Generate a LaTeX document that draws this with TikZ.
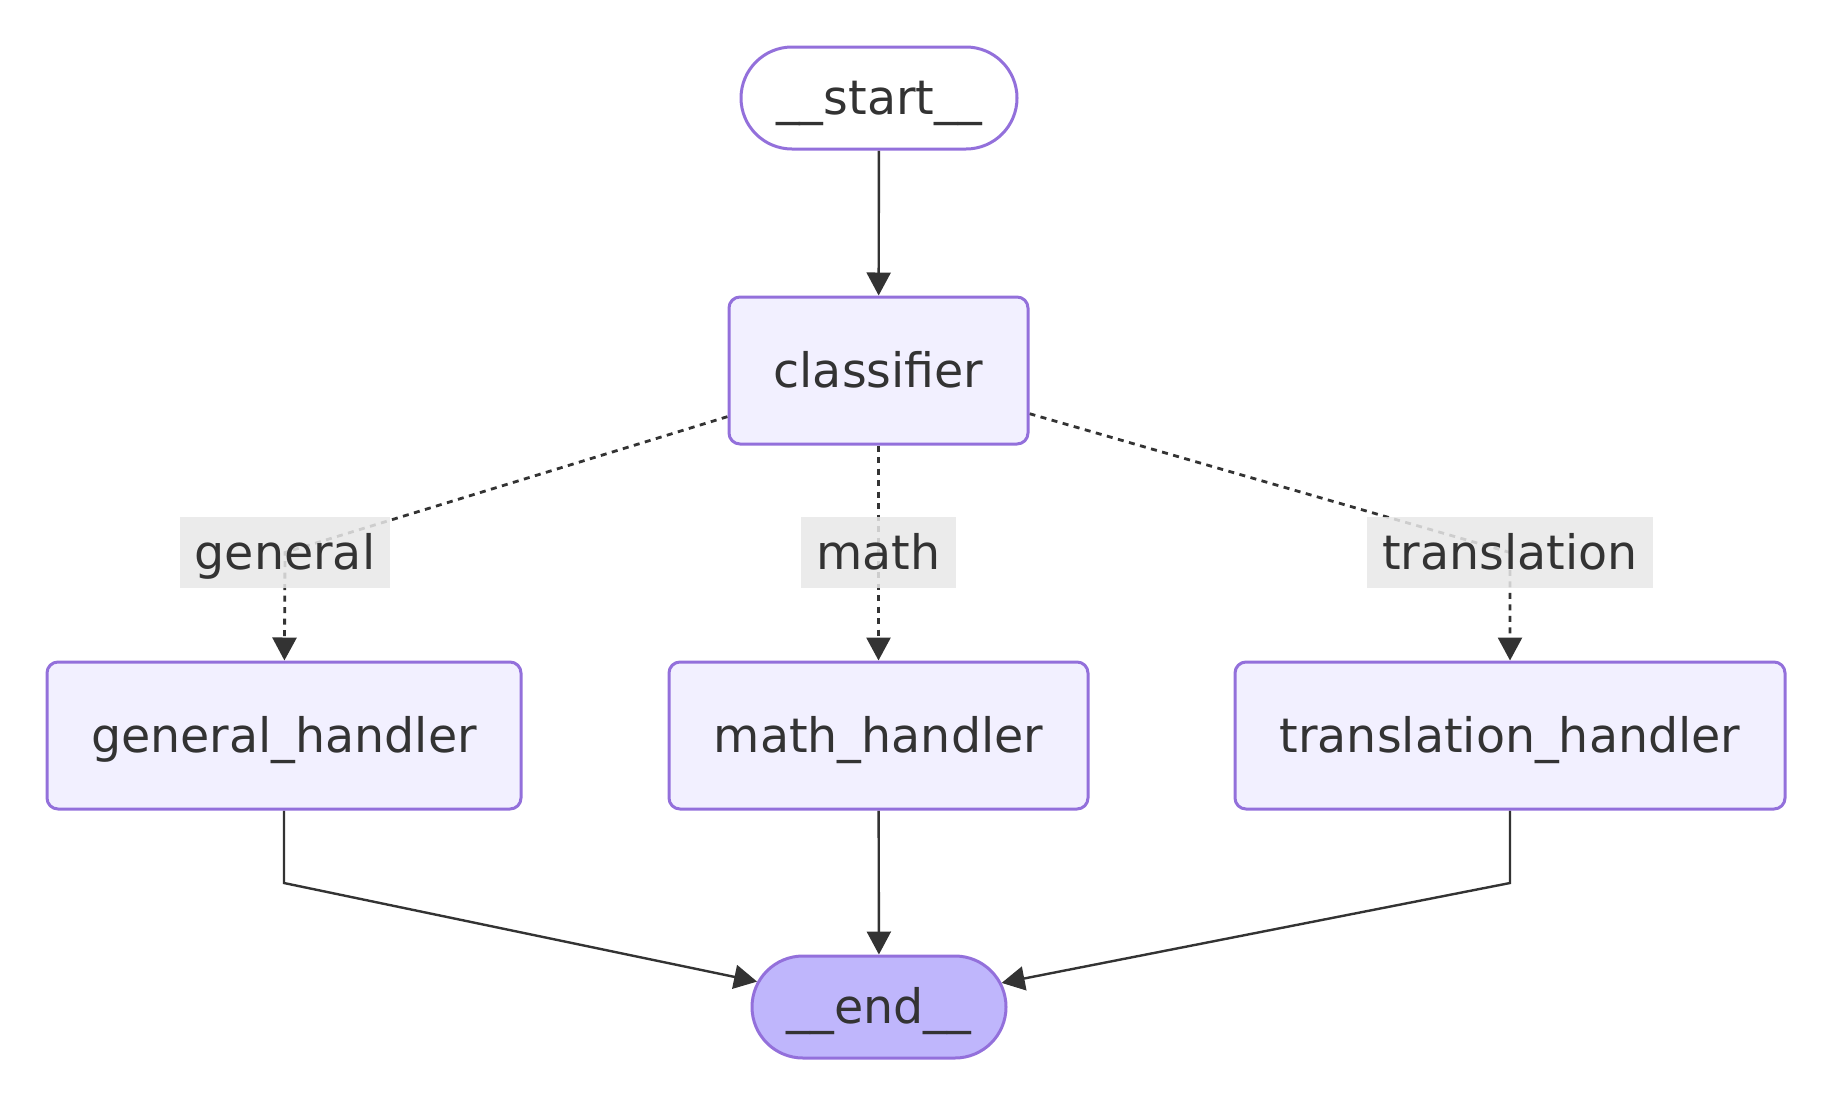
\documentclass[tikz,border=0pt]{standalone}
\usepackage{fontspec}
\setmainfont{DejaVu Sans}
\usetikzlibrary{arrows.meta,shapes.misc,backgrounds}
\definecolor{nodeborder}{HTML}{9370DB}
\definecolor{nodefill}{HTML}{F2F0FF}
\definecolor{endfill}{HTML}{BFB6FC}
\definecolor{ink}{HTML}{333333}
\definecolor{labelfill}{HTML}{E8E8E8}
\begin{document}
\begin{tikzpicture}[x=1pt,y=-1pt,
  font=\fontsize{47.5}{57}\selectfont,
  every node/.style={text=ink, inner sep=0pt, text height=35pt, text depth=2pt},
  box/.style={draw=nodeborder, fill=nodefill, line width=3pt, rounded corners=11pt, minimum height=147pt},
  terminal/.style={rounded rectangle, draw=nodeborder, line width=3pt, minimum height=102pt, inner xsep=0pt},
  edgelabel/.style={fill=labelfill, fill opacity=0.85, text opacity=1, minimum height=71pt, inner xsep=15pt},
  flow/.style={draw=ink, line width=2.4pt, -{Triangle[length=23pt,width=24pt]}},
  cond/.style={flow, line width=2.8pt, dash pattern=on 6pt off 5.5pt},
]
\useasboundingbox (0,0) rectangle (1833,1098);

\node[terminal, fill=white, minimum width=276pt] (start) at (879,98) {\makebox[0pt]{\_\_start\_\_}};
\node[box, minimum width=299pt] (cls) at (878.5,370.5) {classifier};
\node[edgelabel] (glab) at (285,552.5) {general};
\node[edgelabel] (mlab) at (878.5,552.5) {math};
\node[edgelabel] (tlab) at (1510,552.5) {translation};
\node[box, minimum width=474pt] (gh) at (284,735.5) {general\_handler};
\node[box, minimum width=419pt] (mh) at (878.5,735.5) {math\_handler};
\node[box, minimum width=550pt] (th) at (1510,735.5) {translation\_handler};
\node[terminal, fill=endfill, minimum width=254pt] (finish) at (879,1007) {\makebox[0pt]{\_\_end\_\_}};

\coordinate (gc) at (284,883);
\coordinate (tc) at (1510,883);

\begin{scope}[on background layer]
  \draw[flow] (start) -- (cls);
  \draw[cond] (cls) -- (glab.center) -- (gh);
  \draw[cond] (cls) -- (mh);
  \draw[cond] (cls) -- (tlab.center) -- (th);
  \draw[flow] (gh) -- (gc) -- (finish);
  \draw[flow] (mh) -- (finish);
  \draw[flow] (th) -- (tc) -- (finish);
\end{scope}
\end{tikzpicture}
\end{document}
